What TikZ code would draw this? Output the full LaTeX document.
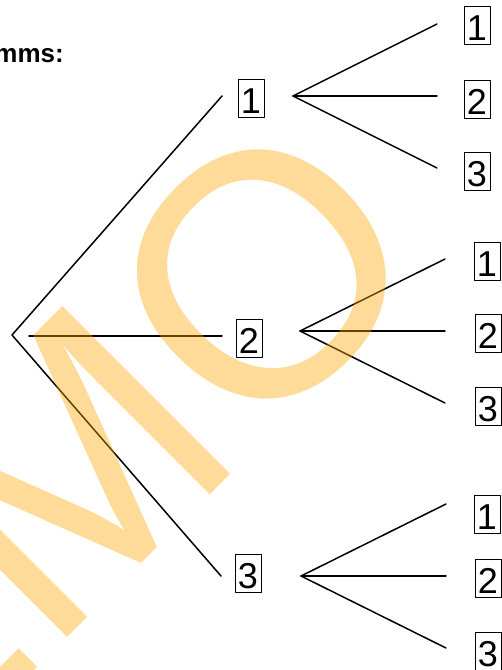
\documentclass[tikz,border=0pt]{standalone}
\usepackage{fontspec}
\setmainfont{Liberation Sans}
\definecolor{wmorange}{RGB}{255,165,0}
\begin{document}
\begin{tikzpicture}[
    x=1pt,
    y=-1pt,
    line cap=round,
    line join=round,
    branch/.style={line width=1.5pt},
    digitbox/.style={
        draw,
        line width=0.8pt,
        inner xsep=3pt,
        inner ysep=2pt,
        text height=32pt,
        text depth=2pt,
        font=\fontsize{36}{36}\selectfont
    },
    watermark/.style={
        text=wmorange,
        text opacity=0.4,
        rotate=45,
        inner sep=0pt,
        font=\fontsize{345}{345}\selectfont
    }
]

% =========================================================
% Рамка рисунка
% =========================================================

\clip (0,0) rectangle (502,670);

% =========================================================
% Заголовок (обрезан слева)
% =========================================================

\node[anchor=base east, inner sep=0pt,
      font=\bfseries\fontsize{26}{26}\selectfont] (title) at (64,62) {mms:};

% =========================================================
% Вершины ветвлений
% =========================================================

\coordinate (V0) at (12,335);
\coordinate (V1) at (293,96);
\coordinate (V2) at (300,331);
\coordinate (V3) at (301,576);

% =========================================================
% Концы ветвей первой ступени
% =========================================================

\coordinate (E1) at (222,96);
\coordinate (M2) at (29,336);
\coordinate (E2) at (222,336);
\coordinate (E3) at (221,576);

% =========================================================
% Концы ветвей второй ступени
% =========================================================

\coordinate (E11) at (437,24);
\coordinate (E12) at (437,96);
\coordinate (E13) at (437,168);

\coordinate (E21) at (445,259);
\coordinate (E22) at (445,331);
\coordinate (E23) at (445,403);

\coordinate (E31) at (446,504);
\coordinate (E32) at (446,576);
\coordinate (E33) at (446,648);

% =========================================================
% Ячейки первой ступени
% =========================================================

\node[digitbox] (Z1) at (251,98) {1};
\node[digitbox] (Z2) at (249,338) {2};
\node[digitbox] (Z3) at (248,573) {3};

% =========================================================
% Ячейки второй ступени
% =========================================================

\node[digitbox] (Z11) at (477,25) {1};
\node[digitbox] (Z12) at (477,99) {2};
\node[digitbox] (Z13) at (477,171) {3};

\node[digitbox] (Z21) at (487,261) {1};
\node[digitbox] (Z22) at (488,333) {2};
\node[digitbox] (Z23) at (488,406) {3};

\node[digitbox] (Z31) at (487,514) {1};
\node[digitbox] (Z32) at (488,578) {2};
\node[digitbox] (Z33) at (488,651) {3};

% =========================================================
% Ветви первой ступени
% =========================================================

\draw[branch] (E1)--(V0)--(E3);
\draw[branch] (M2)--(E2);

% =========================================================
% Ветви второй ступени
% =========================================================

\draw[branch] (E11)--(V1)--(E13);
\draw[branch] (V1)--(E12);

\draw[branch] (E21)--(V2)--(E23);
\draw[branch] (V2)--(E22);

\draw[branch] (E31)--(V3)--(E33);
\draw[branch] (V3)--(E32);

% =========================================================
% Водяной знак
% =========================================================

\node[watermark, anchor=base east] (wm) at (441,264) {DEMO};

\end{tikzpicture}
\end{document}
